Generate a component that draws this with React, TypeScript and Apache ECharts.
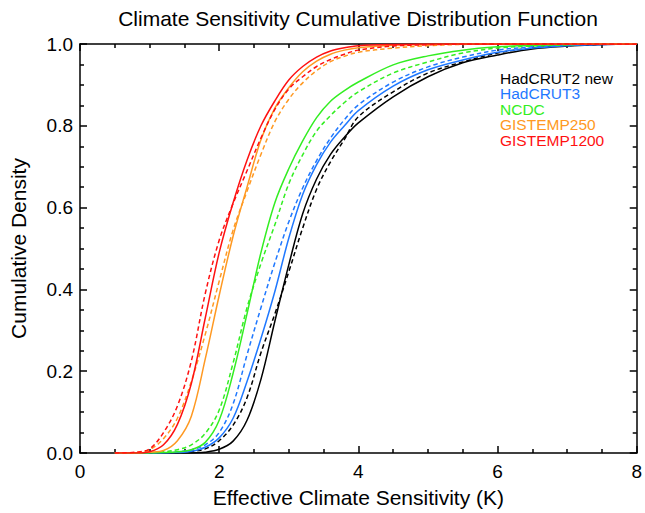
import React, { useEffect, useRef } from "react";
import * as echarts from "echarts";

// Shared x grid (Effective Climate Sensitivity, K)
const xGrid = [0.5, 0.8, 1.0, 1.2, 1.4, 1.6, 1.8, 2.0, 2.2, 2.4, 2.6, 2.8, 3.0, 3.2, 3.4, 3.6, 3.8, 4.0, 4.5, 5.0, 5.5, 6.0, 6.5, 7.0, 7.5, 8.0];

const seriesNames = ["HadCRUT2 new", "HadCRUT3", "NCDC", "GISTEMP250", "GISTEMP1200"];
const seriesColors = ["#000000", "#1f78ff", "#33ee22", "#ff9922", "#ff1111"];

// Cumulative density values (solid and dashed curves per dataset)
const hadcrut2Solid = [0, 0, 0, 0, 0, 0, 0.002, 0.009, 0.029, 0.08, 0.18, 0.322, 0.46, 0.585, 0.67, 0.73, 0.772, 0.807, 0.871, 0.92, 0.954, 0.973, 0.988, 0.995, 0.999, 1];
const hadcrut2Dashed = [0, 0, 0, 0, 0.001, 0.004, 0.01, 0.03, 0.068, 0.135, 0.245, 0.34, 0.443, 0.55, 0.645, 0.712, 0.767, 0.822, 0.883, 0.929, 0.956, 0.978, 0.99, 0.996, 0.999, 1];
const hadcrut3Solid = [0, 0, 0, 0, 0.001, 0.004, 0.014, 0.037, 0.085, 0.175, 0.28, 0.395, 0.525, 0.632, 0.705, 0.76, 0.8, 0.837, 0.897, 0.937, 0.961, 0.98, 0.99, 0.996, 0.999, 1];
const hadcrut3Dashed = [0, 0, 0, 0.001, 0.003, 0.008, 0.02, 0.05, 0.12, 0.24, 0.355, 0.465, 0.565, 0.648, 0.715, 0.77, 0.815, 0.851, 0.907, 0.944, 0.968, 0.985, 0.993, 0.997, 0.999, 1];
const ncdcSolid = [0, 0, 0, 0.001, 0.003, 0.008, 0.026, 0.08, 0.195, 0.34, 0.49, 0.612, 0.695, 0.763, 0.82, 0.86, 0.886, 0.907, 0.949, 0.971, 0.985, 0.993, 0.997, 0.999, 1, 1];
const ncdcDashed = [0, 0, 0.001, 0.003, 0.008, 0.02, 0.048, 0.105, 0.22, 0.355, 0.463, 0.558, 0.658, 0.729, 0.787, 0.825, 0.857, 0.883, 0.929, 0.956, 0.978, 0.99, 0.995, 0.998, 1, 1];
const gistemp250Solid = [0, 0, 0.002, 0.006, 0.03, 0.09, 0.23, 0.385, 0.53, 0.65, 0.766, 0.843, 0.893, 0.932, 0.958, 0.975, 0.985, 0.991, 0.997, 0.999, 1, 1, 1, 1, 1, 1];
const gistemp250Dashed = [0, 0.001, 0.008, 0.035, 0.085, 0.175, 0.29, 0.42, 0.545, 0.64, 0.73, 0.81, 0.865, 0.905, 0.935, 0.957, 0.97, 0.98, 0.99, 0.996, 0.999, 1, 1, 1, 1, 1];
const gistemp1200Solid = [0, 0, 0.003, 0.02, 0.07, 0.17, 0.33, 0.49, 0.612, 0.716, 0.8, 0.861, 0.912, 0.945, 0.968, 0.983, 0.991, 0.996, 0.999, 1, 1, 1, 1, 1, 1, 1];
const gistemp1200Dashed = [0, 0.002, 0.01, 0.05, 0.115, 0.225, 0.39, 0.52, 0.61, 0.69, 0.77, 0.84, 0.89, 0.92, 0.945, 0.962, 0.975, 0.985, 0.995, 0.998, 1, 1, 1, 1, 1, 1];

const solidSets = [hadcrut2Solid, hadcrut3Solid, ncdcSolid, gistemp250Solid, gistemp1200Solid];
const dashedSets = [hadcrut2Dashed, hadcrut3Dashed, ncdcDashed, gistemp250Dashed, gistemp1200Dashed];

const xTicks = [0, 2, 4, 6, 8];
const yTicks = [0, 0.2, 0.4, 0.6, 0.8, 1.0];

const FONT = "'Liberation Sans', Arial, Helvetica, sans-serif";

export default function App() {
  const ref = useRef<HTMLDivElement>(null);

  useEffect(() => {
    if (!ref.current) return;
    const chart = echarts.init(ref.current, undefined, { renderer: "svg" });

    const series: any[] = [];
    seriesNames.forEach((name, i) => {
      series.push({
        name,
        type: "line",
        data: xGrid.map((x, k) => [x, dashedSets[i][k]]),
        showSymbol: false,
        symbol: "none",
        smooth: 0.35,
        lineStyle: { color: seriesColors[i], width: 1.5, type: [4.5, 3] },
        itemStyle: { color: seriesColors[i] },
        z: 3 + i,
      });
      series.push({
        name,
        type: "line",
        data: xGrid.map((x, k) => [x, solidSets[i][k]]),
        showSymbol: false,
        symbol: "none",
        smooth: 0.35,
        lineStyle: { color: seriesColors[i], width: 1.5, type: "solid" },
        itemStyle: { color: seriesColors[i] },
        z: 3 + i,
      });
    });

    const tickCommon = {
      axisLine: { show: true, onZero: false, lineStyle: { color: "#000", width: 1.5 } },
      axisTick: { show: true, inside: true, length: 7, lineStyle: { color: "#000", width: 1.5 } },
      minorTick: { show: true, splitNumber: 4, length: 4, lineStyle: { color: "#000", width: 1.5 } },
      splitLine: { show: false },
      minorSplitLine: { show: false },
    };

    chart.setOption({
      animation: false,
      backgroundColor: "#ffffff",
      title: {
        text: "Climate Sensitivity Cumulative Distribution Function",
        left: 358,
        top: 8,
        padding: 0,
        textAlign: "center",
        textVerticalAlign: "top",
        textStyle: { fontSize: 21, fontWeight: "normal", color: "#000", fontFamily: FONT },
      },
      legend: {
        orient: "vertical",
        left: 495,
        top: 70,
        padding: 0,
        itemGap: -0.5,
        itemWidth: 0,
        itemHeight: 15,
        icon: "rect",
        itemStyle: { opacity: 0 },
        selectedMode: false,
        data: seriesNames.map((n, i) => ({ name: n, textStyle: { color: seriesColors[i] } })),
        textStyle: { fontSize: 15.5, fontFamily: FONT, lineHeight: 15 },
      },
      grid: { left: 80, right: 5, top: 44, bottom: 59, containLabel: false },
      xAxis: [
        {
          type: "value",
          position: "bottom",
          min: xTicks[0],
          max: xTicks[xTicks.length - 1],
          interval: 2,
          name: "Effective Climate Sensitivity (K)",
          nameLocation: "middle",
          nameGap: 34,
          nameTextStyle: { fontSize: 21, color: "#000", fontFamily: FONT },
          axisLabel: { fontSize: 19, color: "#000", margin: 9, fontFamily: FONT },
          ...tickCommon,
        },
        {
          type: "value",
          position: "top",
          min: xTicks[0],
          max: xTicks[xTicks.length - 1],
          interval: 2,
          axisLabel: { show: false },
          ...tickCommon,
        },
      ],
      yAxis: [
        {
          type: "value",
          position: "left",
          min: yTicks[0],
          max: yTicks[yTicks.length - 1],
          interval: 0.2,
          name: "Cumulative Density",
          nameLocation: "middle",
          nameGap: 51,
          nameTextStyle: { fontSize: 21, color: "#000", fontFamily: FONT },
          axisLabel: {
            fontSize: 19,
            color: "#000",
            margin: 7,
            fontFamily: FONT,
            formatter: (v: number) => v.toFixed(1),
          },
          ...tickCommon,
        },
        {
          type: "value",
          position: "right",
          min: yTicks[0],
          max: yTicks[yTicks.length - 1],
          interval: 0.2,
          axisLabel: { show: false },
          ...tickCommon,
        },
      ],
      series,
    });

    return () => chart.dispose();
  }, []);

  return (
    <div
      ref={ref}
      style={{ position: "absolute", left: 0, top: 0, width: 645, height: 513, background: "#fff" }}
    />
  );
}
